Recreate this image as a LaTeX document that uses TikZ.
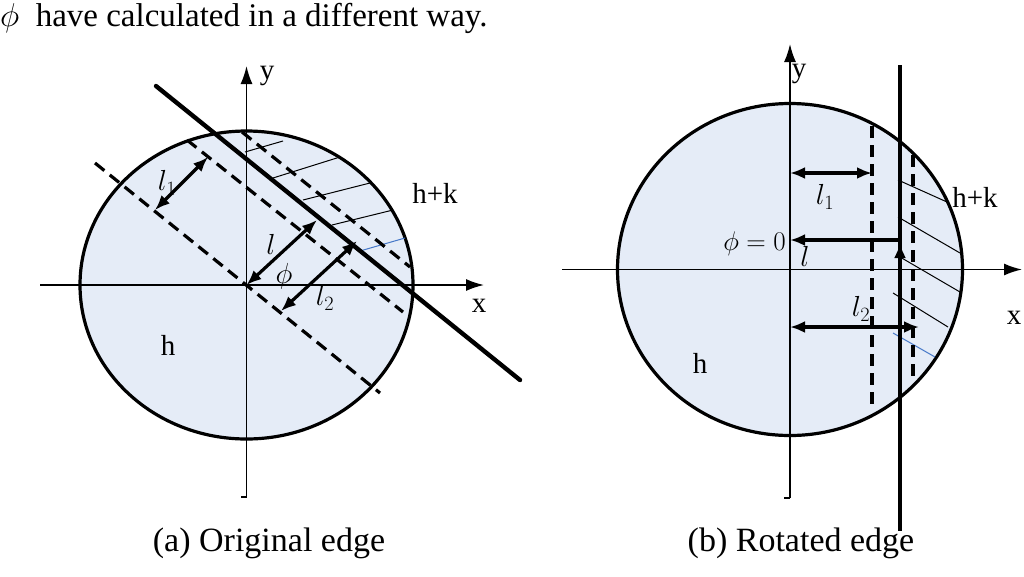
\RequirePackage{fix-cm}
\documentclass[tikz,border=0pt]{standalone}
\usepackage[no-math]{fontspec}
\setmainfont{Liberation Serif}
\usetikzlibrary{arrows.meta,positioning}
\definecolor{discfill}{RGB}{229,236,247}
\definecolor{hatchblue}{RGB}{70,120,200}

\begin{document}
\begin{tikzpicture}[
        x=1pt, y=-1pt,
        disc/.style={draw=black, line width=3.2pt, fill=discfill},
        axis/.style={line width=1.6pt, -{Latex[length=18pt,width=12pt]}},
        edgeline/.style={line width=4.4pt, line cap=round},
        cutline/.style={line width=3.2pt, dash pattern=on 12pt off 7pt},
        hatch/.style={line width=1pt},
        dim/.style={line width=3.2pt, {Latex[length=15pt,width=12pt]}-{Latex[length=15pt,width=12pt]}},
        lbl/.style={font=\fontsize{29}{34}\selectfont, inner sep=0pt},
        caption/.style={font=\fontsize{34}{40}\selectfont, inner sep=0pt}
    ]
    \useasboundingbox (0,0) rectangle (1024,576);

    \node[font=\fontsize{33}{40}\selectfont, inner sep=0pt, anchor=base west] (intro) at (0,26)
        {$\phi$\ \ have calculated in a different way.};

    % (a) original edge
    \coordinate (oa) at (246.5,285);
    \draw[disc] (oa) ellipse [x radius=166.5, y radius=154];
    \coordinate (xa0) at (40,285);
    \coordinate (xa1) at (484,285);
    \coordinate (ya0) at (246.5,497);
    \coordinate (ya1) at (246.5,66);
    \draw[axis] (xa0) -- (xa1);
    \draw[axis] (ya0) -- (ya1);
    \draw[line width=1.6pt] (ya0) -- ++(-6,0);

    \coordinate (ea0) at (156,86);
    \coordinate (ea1) at (520,380);
    \coordinate (da0) at (95,163);
    \coordinate (da1) at (380,393);
    \coordinate (db0) at (187,140);
    \coordinate (db1) at (403,312);
    \coordinate (dc0) at (242,132);
    \coordinate (dc1) at (410,267);

    \coordinate (ha1) at (245,152);  \coordinate (hb1) at (283,141);
    \coordinate (ha2) at (273,178);  \coordinate (hb2) at (340,157);
    \coordinate (ha3) at (303,200);  \coordinate (hb3) at (370,183);
    \coordinate (ha4) at (332,225);  \coordinate (hb4) at (393,210);
    \coordinate (ha5) at (360,251);  \coordinate (hb5) at (405,238);
    \foreach \i in {1,2,3,4}
        \draw[hatch] (ha\i) -- (hb\i);
    \draw[hatch, hatchblue] (ha5) -- (hb5);

    \draw[cutline] (da0) -- (da1);
    \draw[cutline] (db0) -- (db1);
    \draw[cutline] (dc0) -- (dc1);
    \draw[edgeline] (ea0) -- (ea1);

    \coordinate (la0) at (155,210);
    \coordinate (la1) at (208,157);
    \coordinate (lb1) at (317,220);
    \coordinate (lc0) at (281,311);
    \coordinate (lc1) at (357,241);
    \draw[dim] (la0) -- (la1);
    \draw[dim] (oa) -- (lb1);
    \draw[dim] (lc0) -- (lc1);

    \node[lbl] (l1a) at (167,183) {$l_1$};
    \node[lbl] (la) at (271,244) {$l$};
    \node[lbl] (phia) at (284,276) {$\phi$};
    \node[lbl] (l2a) at (325,298) {$l_2$};
    \node[lbl] (hka) at (435,193) {h+k};
    \node[lbl] (ha) at (168,345) {h};
    \node[lbl] (yla) at (267,76) {y};
    \node[lbl] (xla) at (479,306) {x};

    % (b) rotated edge
    \coordinate (ob) at (790,269.5);
    \draw[disc] (ob) ellipse [x radius=172.5, y radius=166];
    \coordinate (xb0) at (562,269.5);
    \coordinate (xb1) at (1022,269.5);
    \coordinate (yb0) at (790,498);
    \coordinate (yb1) at (790,44);
    \draw[axis] (xb0) -- (xb1);
    \draw[axis] (yb0) -- (yb1);
    \draw[line width=1.6pt] (yb0) -- ++(-6,0);

    \coordinate (hc1) at (898,180);  \coordinate (hd1) at (947,202);
    \coordinate (hc2) at (898,217);  \coordinate (hd2) at (960,253);
    \coordinate (hc3) at (900,257);  \coordinate (hd3) at (960,292);
    \coordinate (hc4) at (893,293);  \coordinate (hd4) at (948,327);
    \coordinate (hc5) at (893,333);  \coordinate (hd5) at (935,357);
    \foreach \i in {1,2,3,4}
        \draw[hatch] (hc\i) -- (hd\i);
    \draw[hatch, hatchblue] (hc5) -- (hd5);

    \coordinate (dd0) at (872,126);
    \coordinate (dd1) at (872,407);
    \coordinate (de0) at (913,155);
    \coordinate (de1) at (913,377);
    \coordinate (eb0) at (900,65);
    \coordinate (eb1) at (900,531);
    \draw[cutline] (dd0) -- (dd1);
    \draw[cutline] (de0) -- (de1);
    \draw[edgeline, line cap=butt] (eb0) -- (eb1);

    \coordinate (m0) at (790,173);
    \coordinate (m1) at (872,173);
    \coordinate (n0) at (900,240);
    \coordinate (n1) at (790,240);
    \coordinate (p0) at (790,327);
    \coordinate (p1) at (919,327);
    \coordinate (q0) at (900,264);
    \coordinate (q1) at (900,243);
    \draw[dim] (m0) -- (m1);
    \draw[line width=3.2pt, -{Latex[length=15pt,width=12pt]}] (n0) -- (n1);
    \draw[line width=3.2pt, -{Latex[length=15pt,width=12pt]}] (q0) -- (q1);
    \draw[dim] (p0) -- (p1);

    \node[lbl] (l1b) at (825,197) {$l_1$};
    \node[lbl, font=\fontsize{27}{32}\selectfont, anchor=east] (phib) at (786,244) {$\phi=0$};
    \node[lbl] (lb) at (805,256) {$l$};
    \node[lbl] (l2b) at (861,309) {$l_2$};
    \node[lbl] (hkb) at (975,197) {h+k};
    \node[lbl] (hb) at (700,363) {h};
    \node[lbl] (ylb) at (799,74) {y};
    \node[lbl] (xlb) at (1014,318) {x};

    \node[caption, anchor=base] (capa) at (269,551) {(a) Original edge};
    \node[caption, anchor=base] (capb) at (801,551) {(b) Rotated edge};

\end{tikzpicture}
\end{document}
